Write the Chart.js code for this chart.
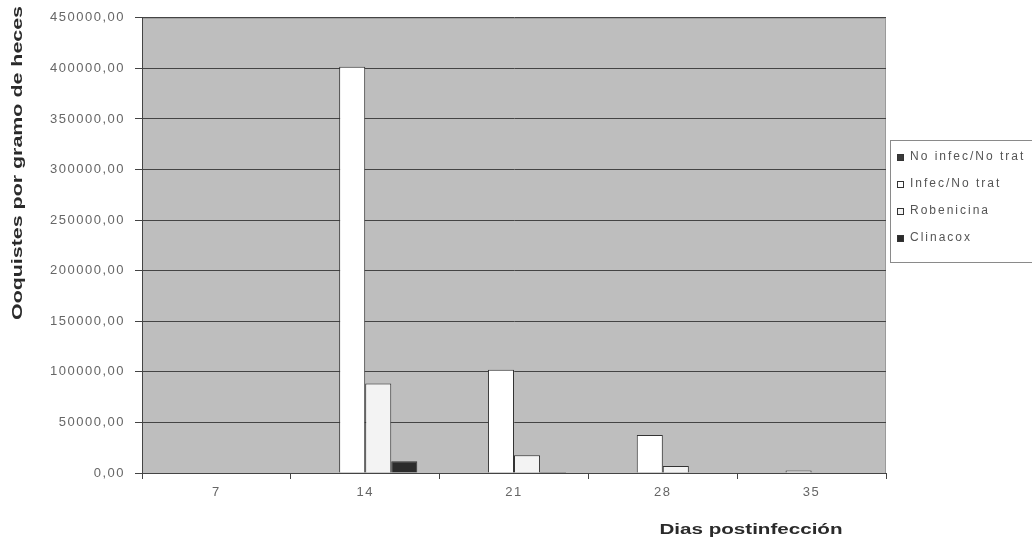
<!DOCTYPE html>
<html>
<head>
<meta charset="utf-8">
<script src="https://cdn.jsdelivr.net/npm/chart.js@4/dist/chart.umd.min.js"></script>
<style>
  html, body { margin: 0; padding: 0; background: #fff; }
  #wrap { width: 1032px; height: 545px; }
</style>
</head>
<body>
<div id="wrap"><canvas id="barchart" width="1032" height="545"></canvas></div>
<script>
// dias postinfeccion
const dias = ['7', '14', '21', '28', '35'];

// ooquistes por gramo de heces
const noInfecNoTrat = [0, 0, 0, 0, 0];
const infecNoTrat   = [0, 401500, 102000, 37500, 2500];
const robenicina    = [0, 88500, 17500, 7000, 0];
const clinacox      = [0, 11500, 1000, 0, 0];

const yTicks = [0, 50000, 100000, 150000, 200000, 250000, 300000, 350000, 400000, 450000];

const FONT = '"Liberation Sans", Arial, sans-serif';

function fmt(v) {
  return v.toFixed(2).replace('.', ',');
}

// the scanned original has wide, spread out lettering
function spread(chart) {
  chart.ctx.letterSpacing = '1.5px';
}

// draws a text stretched to a given width
function stretchedText(ctx, text, x, y, width, angle) {
  ctx.save();
  ctx.translate(x, y);
  ctx.rotate(angle);
  const w = ctx.measureText(text).width;
  ctx.scale(width / w, 1);
  ctx.fillText(text, 0, 0);
  ctx.restore();
}

// gray plot background + axis titles
const plotBg = {
  id: 'plotBg',
  beforeLayout: spread,
  beforeDraw(chart) {
    spread(chart);
    const { ctx, chartArea: a } = chart;
    ctx.save();
    ctx.fillStyle = '#bebebe';
    ctx.fillRect(a.left, a.top, a.right - a.left, a.bottom - a.top);
    ctx.strokeStyle = '#9a9a9a';
    ctx.lineWidth = 1;
    ctx.strokeRect(a.left + 0.5, a.top + 0.5, a.right - a.left - 1, a.bottom - a.top);
    ctx.restore();
  },
  afterDraw(chart) {
    const { ctx } = chart;
    ctx.save();
    ctx.letterSpacing = '0px';
    ctx.font = 'bold 14px ' + FONT;
    ctx.fillStyle = '#2a2a2a';
    ctx.textAlign = 'center';
    ctx.textBaseline = 'middle';
    stretchedText(ctx, 'Dias postinfección', 751, 530, 183, 0);
    stretchedText(ctx, 'Ooquistes por gramo de heces', 18, 163, 314, -Math.PI / 2);
    ctx.restore();
  }
};

// legend box on the right, partly cut off by the edge
const boxLegend = {
  id: 'boxLegend',
  afterDraw(chart) {
    const { ctx } = chart;
    const x = 890, y = 140, w = 160, h = 122;
    ctx.save();
    ctx.fillStyle = '#fff';
    ctx.fillRect(x, y, w, h);
    ctx.strokeStyle = '#8a8a8a';
    ctx.lineWidth = 1;
    ctx.strokeRect(x + 0.5, y + 0.5, w, h);
    ctx.font = '12px ' + FONT;
    ctx.letterSpacing = '2px';
    ctx.textBaseline = 'middle';
    chart.data.datasets.forEach((ds, i) => {
      const ry = 157 + i * 27;
      ctx.fillStyle = ds.backgroundColor;
      ctx.fillRect(897, ry - 3, 7, 7);
      ctx.strokeStyle = '#333';
      ctx.strokeRect(897.5, ry - 2.5, 6, 6);
      ctx.fillStyle = '#555';
      ctx.fillText(ds.label, 910, ry);
    });
    ctx.restore();
  }
};

const datasets = [
  { label: 'No infec/No trat', data: noInfecNoTrat, backgroundColor: '#3a3a3a' },
  { label: 'Infec/No trat',    data: infecNoTrat,   backgroundColor: '#ffffff' },
  { label: 'Robenicina',       data: robenicina,    backgroundColor: '#f3f3f3' },
  { label: 'Clinacox',         data: clinacox,      backgroundColor: '#2b2b2b' }
].map(d => Object.assign(d, {
  borderColor: '#333',
  borderWidth: 1,
  categoryPercentage: 0.7,
  barPercentage: 1.0
}));

const chart = new Chart(document.getElementById('barchart').getContext('2d'), {
  type: 'bar',
  data: { labels: dias, datasets },
  options: {
    responsive: false,
    animation: false,
    maintainAspectRatio: false,
    layout: { padding: { top: 17, right: 146, bottom: 0, left: 0 } },
    plugins: {
      legend: { display: false },
      tooltip: { enabled: false }
    },
    scales: {
      x: {
        afterFit(axis) { axis.height = 72; },
        grid: {
          offset: true,
          drawOnChartArea: false,
          drawTicks: true,
          tickLength: 6,
          color: '#444'
        },
        border: { display: true, color: '#444' },
        ticks: {
          color: '#666',
          font: { family: FONT, size: 13 },
          padding: 6
        }
      },
      y: {
        min: 0,
        max: 450000,
        afterBuildTicks(axis) {
          axis.ticks = yTicks.map(v => ({ value: v }));
        },
        afterFit(axis) { axis.width = 142; },
        grid: {
          color: '#444',
          lineWidth: 1,
          tickLength: 7
        },
        border: { display: true, color: '#444' },
        ticks: {
          color: '#666',
          font: { family: FONT, size: 13 },
          padding: 10,
          callback: v => fmt(v)
        }
      }
    }
  },
  plugins: [plotBg, boxLegend]
});
</script>
</body>
</html>
